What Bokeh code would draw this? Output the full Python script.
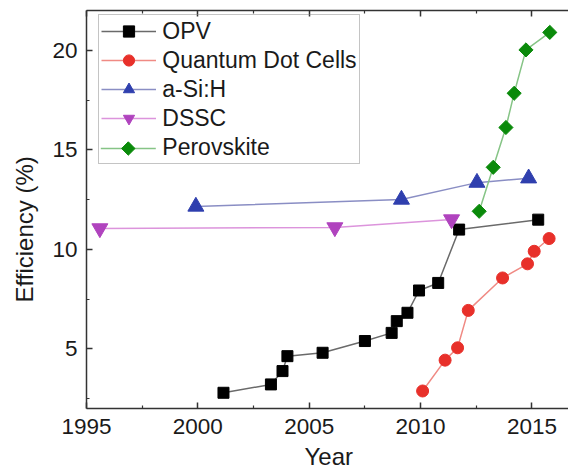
from bokeh.plotting import figure
from bokeh.models import Range1d, FixedTicker, LinearAxis, Legend, LegendItem, Title
from bokeh.embed import file_html
from bokeh.resources import INLINE
import numpy as np

# ---- data ----
opv_year = [2001.15, 2003.28, 2003.80, 2004.02, 2005.60, 2007.50, 2008.70, 2008.93, 2009.41, 2009.93, 2010.79, 2011.73, 2015.28]
opv_eff = [2.79, 3.21, 3.88, 4.63, 4.80, 5.39, 5.80, 6.39, 6.81, 7.93, 8.31, 10.99, 11.49]
qd_year = [2010.09, 2011.10, 2011.66, 2012.14, 2013.68, 2014.80, 2015.10, 2015.77]
qd_eff = [2.88, 4.43, 5.05, 6.93, 8.56, 9.27, 9.90, 10.54]
asi_year = [1999.91, 2009.14, 2012.53, 2014.85]
asi_eff = [12.15, 12.50, 13.35, 13.57]
dssc_year = [1995.6, 2006.15, 2011.39]
dssc_eff = [11.05, 11.10, 11.50]
pero_year = [2012.63, 2013.26, 2013.83, 2014.20, 2014.73, 2015.80]
pero_eff = [11.91, 14.12, 16.12, 17.84, 20.02, 20.90]

x_major = [1995, 2000, 2005, 2010, 2015]
x_minor = [1997.5, 2002.5, 2007.5, 2012.5]
y_major = [5, 10, 15, 20]
y_minor = [2.5, 7.5, 12.5, 17.5]

FONT = "Liberation Sans"
AXC = "#333333"
TXT = "#1a1a1a"

W, H = 568, 475
LEFT, TOP, BOTTOM = 86, 10, 67
X0, X1, Y0, Y1 = 1995, 2016.64, 2, 22
FW, FH = W - LEFT, H - TOP - BOTTOM

p = figure(width=W, height=H, output_backend="svg", toolbar_location=None,
           x_range=Range1d(X0, X1), y_range=Range1d(Y0, Y1),
           min_border_left=LEFT, min_border_top=TOP, min_border_right=0, min_border_bottom=BOTTOM)
p.outline_line_color = None
p.xgrid.visible = False
p.ygrid.visible = False
p.background_fill_color = "white"


def style_axis(ax, ticker, show_labels=True):
    ax.ticker = ticker
    ax.axis_line_color = AXC
    ax.axis_line_width = 1.5
    ax.major_tick_line_color = AXC
    ax.minor_tick_line_color = AXC
    ax.major_tick_line_width = 1.5
    ax.minor_tick_line_width = 1.2
    ax.major_tick_in = 6
    ax.major_tick_out = 0
    ax.minor_tick_in = 3
    ax.minor_tick_out = 0
    if show_labels:
        ax.major_label_text_font = FONT
        ax.major_label_text_font_size = "22.5px"
        ax.major_label_text_color = TXT
    else:
        ax.major_label_text_font_size = "0px"
        ax.major_label_standoff = 0


style_axis(p.xaxis[0], FixedTicker(ticks=x_major, minor_ticks=x_minor))
style_axis(p.yaxis[0], FixedTicker(ticks=y_major, minor_ticks=y_minor))
p.xaxis[0].major_label_standoff = 10
p.yaxis[0].major_label_standoff = 9

top = LinearAxis()
style_axis(top, FixedTicker(ticks=x_major, minor_ticks=x_minor), show_labels=False)
p.add_layout(top, "above")

# axis titles
p.add_layout(Title(text="Year", align="left", offset=218, standoff=9, vertical_align="bottom",
                   text_font=FONT, text_font_size="24px", text_font_style="normal",
                   text_color=TXT), "below")
p.add_layout(Title(text="Efficiency (%)", align="left", offset=106, standoff=19,
                   vertical_align="top",
                   text_font=FONT, text_font_size="24px", text_font_style="normal",
                   text_color=TXT), "left")

series = [
    ("OPV", opv_year, opv_eff, "#000000", "#6a6a6a", "square", 11, 0),
    ("Quantum Dot Cells", qd_year, qd_eff, "#e8302a", "#f08a84", "circle", 12, 0),
    ("a-Si:H", asi_year, asi_eff, "#2f3fae", "#8a8ec4", "triangle", 16, 0),
    ("DSSC", dssc_year, dssc_eff, "#b043be", "#dc94dc", "inverted_triangle", 16, 0),
    ("Perovskite", pero_year, pero_eff, "#0a8a0a", "#86c486", "square", 10, np.pi / 4),
]

# legend geometry
LEG_PAD, LEG_ROW, LEG_SP, LEG_GW = 2, 28, 1, 55
LEG_X, LEG_BOTTOM_PX = 12.3, 164          # left offset from frame, bottom in window px
n_items = len(series)
leg_h = 2 * LEG_PAD + n_items * LEG_ROW + (n_items - 1) * LEG_SP
leg_top_px = LEG_BOTTOM_PX - leg_h


def to_data(sx_frame, sy_window):
    return (X0 + sx_frame * (X1 - X0) / FW,
            Y0 + (TOP + FH - sy_window) * (Y1 - Y0) / FH)


items = []
for i, (name, xs, ys, mc, lc, marker, size, ang) in enumerate(series):
    r1 = p.line(xs, ys, line_color=lc, line_width=1.5)
    r2 = p.scatter(xs, ys, marker=marker, size=size, angle=ang,
                   fill_color=mc, line_color=mc)
    if ang:
        # the legend draws markers unrotated, so draw this swatch ourselves
        # under a transparent legend box
        sy = leg_top_px + LEG_PAD + i * (LEG_ROW + LEG_SP) + LEG_ROW / 2
        xa, ya = to_data(LEG_X + LEG_PAD, sy)
        xb, _ = to_data(LEG_X + LEG_PAD + LEG_GW, sy)
        xm, _ = to_data(LEG_X + LEG_PAD + LEG_GW / 2, sy)
        p.line([xa, xb], [ya, ya], line_color=lc, line_width=1.5)
        p.scatter([xm], [ya], marker=marker, size=size * 0.95, angle=ang,
                  fill_color=mc, line_color=mc)
        dummy = p.line([xm], [ya], line_alpha=0)
        items.append(LegendItem(label=name, renderers=[dummy]))
    else:
        items.append(LegendItem(label=name, renderers=[r1, r2]))

legend = Legend(items=items)
legend.margin = 0
legend.location = (LEG_X, TOP + FH - LEG_BOTTOM_PX)
legend.padding = LEG_PAD
legend.spacing = LEG_SP
legend.label_height = LEG_ROW
legend.glyph_height = LEG_ROW
legend.glyph_width = LEG_GW
legend.label_standoff = 6
legend.label_text_font = FONT
legend.label_text_font_size = "23px"
legend.label_text_color = TXT
legend.border_line_color = "#8a8a8a"
legend.border_line_width = 1.2
legend.background_fill_alpha = 0.0
p.add_layout(legend, "center")

open("out.html", "w").write(file_html(p, INLINE))
